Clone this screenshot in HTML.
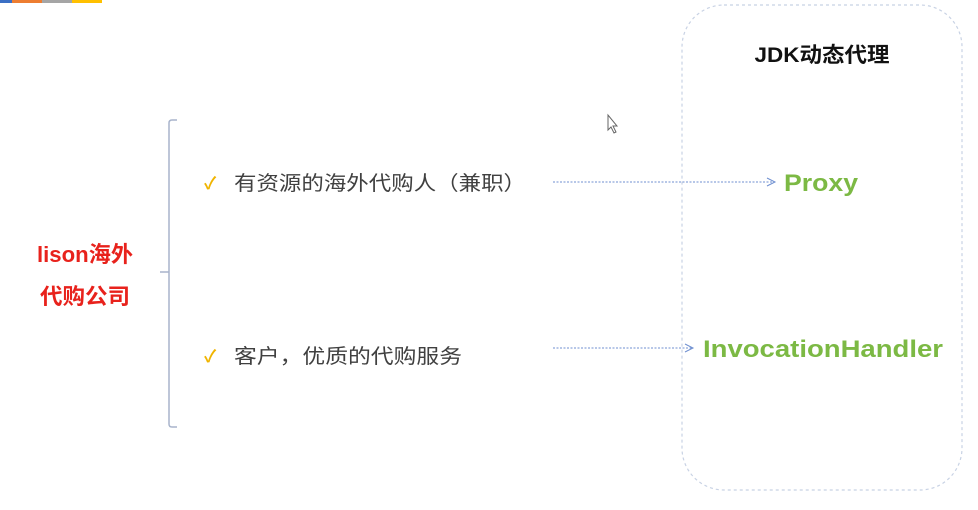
<!DOCTYPE html>
<html><head><meta charset="utf-8"><style>
html,body{margin:0;padding:0;background:#fff;width:978px;height:510px;overflow:hidden}
svg{display:block}
text{font-family:"Liberation Sans","Noto Sans CJK SC",sans-serif}
</style></head><body>
<svg width="978" height="510" viewBox="0 0 978 510" xmlns="http://www.w3.org/2000/svg">
<rect x="0" y="0" width="12" height="3" fill="#3b6fc4"/>
<rect x="12" y="0" width="30" height="3" fill="#ed7d31"/>
<rect x="42" y="0" width="30" height="3" fill="#a5a5a5"/>
<rect x="72" y="0" width="30" height="3" fill="#ffc000"/>
<rect x="682" y="5" width="280" height="485" rx="42" ry="42" fill="none" stroke="#c8d2e4" stroke-width="1.2" stroke-dasharray="3,3"/>
<text x="822" y="62" text-anchor="middle" font-size="21" font-weight="bold" fill="#111" textLength="135" lengthAdjust="spacingAndGlyphs">JDK动态代理</text>
<path d="M177,120 H172 Q169,120 169,123 V424 Q169,427 172,427 H177 M169,272 H160" fill="none" stroke="#a8b4cc" stroke-width="1.5"/>
<text x="85" y="262" text-anchor="middle" font-size="22" font-weight="bold" fill="#e8221c" textLength="96" lengthAdjust="spacingAndGlyphs">lison海外</text>
<text x="85" y="304" text-anchor="middle" font-size="22" font-weight="bold" fill="#e8221c" textLength="90" lengthAdjust="spacingAndGlyphs">代购公司</text>
<text x="204" y="189" font-size="17" font-weight="bold" fill="#f0b400">✓</text>
<text x="234" y="190" font-size="20" fill="#404040" textLength="292" lengthAdjust="spacingAndGlyphs">有资源的海外代购人（兼职）</text>
<text x="204" y="362" font-size="17" font-weight="bold" fill="#f0b400">✓</text>
<text x="234" y="363" font-size="20" fill="#404040" textLength="228" lengthAdjust="spacingAndGlyphs">客户，优质的代购服务</text>
<g stroke="#6f8fd0" stroke-width="1" fill="none">
<line x1="553" y1="182" x2="774" y2="182" stroke-dasharray="2,1.5"/>
<path d="M767,178 L775,182 L767,186"/>
<line x1="553" y1="348" x2="692" y2="348" stroke-dasharray="2,1.5"/>
<path d="M685,344 L693,348 L685,352"/>
</g>
<text x="784" y="191" font-size="24" font-weight="bold" fill="#7cb944" textLength="74" lengthAdjust="spacingAndGlyphs">Proxy</text>
<text x="703" y="357" font-size="24" font-weight="bold" fill="#7cb944" textLength="240" lengthAdjust="spacingAndGlyphs">InvocationHandler</text>
<path d="M608,115 L608,130 L611,127 L614,133 L616,132 L613,126 L617,126 Z" fill="#fff" stroke="#666" stroke-width="1"/>
</svg>
</body></html>
